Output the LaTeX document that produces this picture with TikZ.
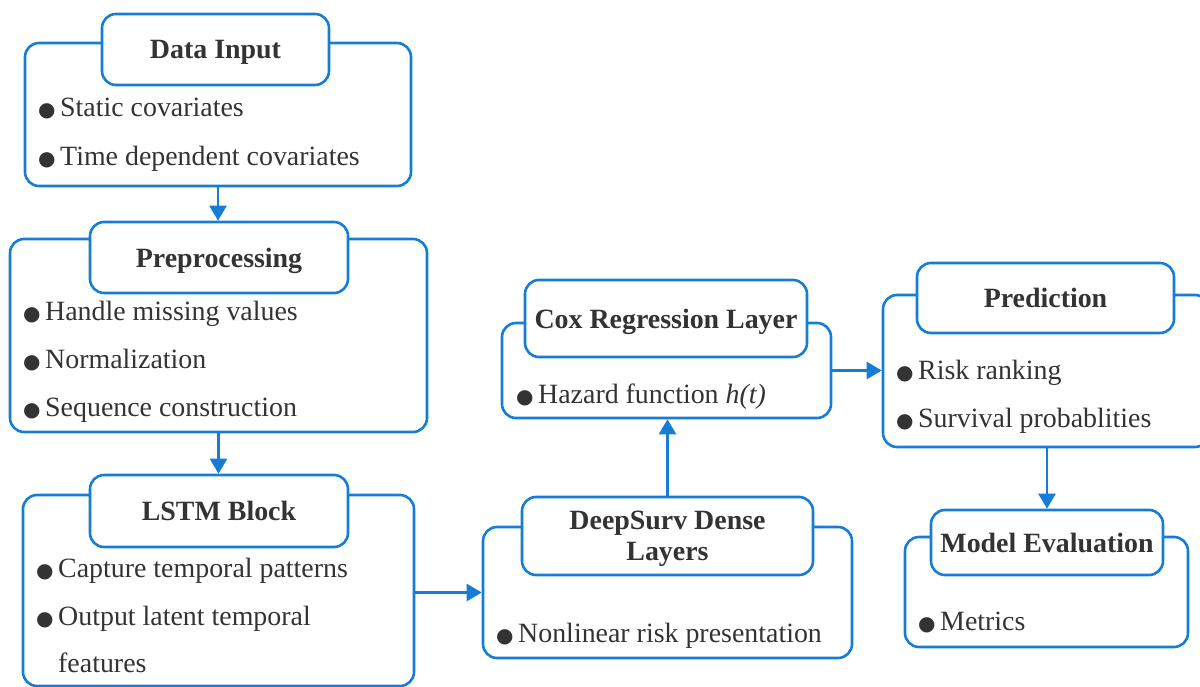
\documentclass[tikz,border=0pt]{standalone}
\usepackage{fontspec}
\setmainfont{Liberation Serif}
\newfontfamily\symfont{DejaVu Sans}
\usepackage{tikz}
\usetikzlibrary{arrows.meta}
\definecolor{flowblue}{RGB}{22,125,215}
\definecolor{ink}{RGB}{51,51,51}
\newcommand{\bul}{\makebox[22pt][l]{\symfont\fontsize{20}{20}\selectfont ●}}

\begin{document}
\begin{tikzpicture}[x=1pt,y=-1pt,
		stage/.style={draw=flowblue,line width=2.6pt,rounded corners=14pt,inner sep=0pt},
		head/.style={stage,fill=white,text=ink,align=center,text depth=0pt,font=\fontsize{27.9}{31}\selectfont\bfseries},
		item/.style={anchor=base west,inner sep=0pt,text=ink,font=\fontsize{27.9}{33}\selectfont},
		flow/.style={draw=flowblue,line width=2.6pt,-{Triangle[length=15pt,width=17pt]}}]

			\useasboundingbox (0,0) rectangle (1200,687);
			\clip (0,0) rectangle (1200,687);

			\node[stage,minimum width=386pt,minimum height=143pt] (din) at (218,114.5) {};
			\node[head,minimum width=227pt,minimum height=71pt] (dinT) at (215.5,49.5) {Data Input};
			\node[item] (din1) at (38,117) {\bul Static covariates};
			\node[item] (din2) at (38,166) {\bul Time dependent covariates};

			\node[stage,minimum width=417pt,minimum height=193pt] (pre) at (218.5,335.5) {};
			\node[head,minimum width=258pt,minimum height=71pt] (preT) at (219,257.5) {Preprocessing};
			\node[item] (pre1) at (23,320) {\bul Handle missing values};
			\node[item] (pre2) at (23,368) {\bul Normalization};
			\node[item] (pre3) at (23,416) {\bul Sequence construction};

			\node[stage,minimum width=391pt,minimum height=191pt] (lstm) at (218.5,590.5) {};
			\node[head,minimum width=258pt,minimum height=72pt] (lstmT) at (219,511) {LSTM Block};
			\node[item] (lstm1) at (36,577) {\bul Capture temporal patterns};
			\node[item] (lstm2) at (36,625) {\bul Output latent temporal};
			\node[item] (lstm3) at (58,672) {features};

			\node[stage,minimum width=369pt,minimum height=131pt] (ds) at (667.5,592.5) {};
			\node[head,minimum width=291pt,minimum height=78pt] (dsT) at (667.5,536) {DeepSurv Dense\\Layers};
			\node[item] (ds1) at (496,642) {\bul Nonlinear risk presentation};

			\node[stage,minimum width=329pt,minimum height=95pt] (cox) at (666.5,370.5) {};
			\node[head,minimum width=282pt,minimum height=77pt] (coxT) at (666,318.5) {Cox Regression Layer};
			\node[item] (cox1) at (516,403) {\bul Hazard function \textit{h(t)}};

			\node[stage,minimum width=326pt,minimum height=152pt] (pred) at (1046,371) {};
			\node[head,minimum width=257pt,minimum height=70pt] (predT) at (1045.5,298) {Prediction};
			\node[item] (pred1) at (896,379) {\bul Risk ranking};
			\node[item] (pred2) at (896,427) {\bul Survival probablities};

			\node[stage,minimum width=283pt,minimum height=110pt] (me) at (1046.5,592) {};
			\node[head,minimum width=232pt,minimum height=65pt] (meT) at (1047,542.5) {Model Evaluation};
			\node[item] (me1) at (918,630) {\bul Metrics};

			\draw[flow] (din.south) -- (din.south |- preT.north);
			\draw[flow] (pre.south) -- (pre.south |- lstmT.north);
			\draw[flow] (lstm.east |- ds.west) -- (ds.west);
			\draw[flow] (dsT.north) -- (dsT.north |- cox.south);
			\draw[flow] (cox.east) -- (cox.east -| pred.west);
			\draw[flow] (meT.north |- pred.south) -- (meT.north);

		\end{tikzpicture}
\end{document}
